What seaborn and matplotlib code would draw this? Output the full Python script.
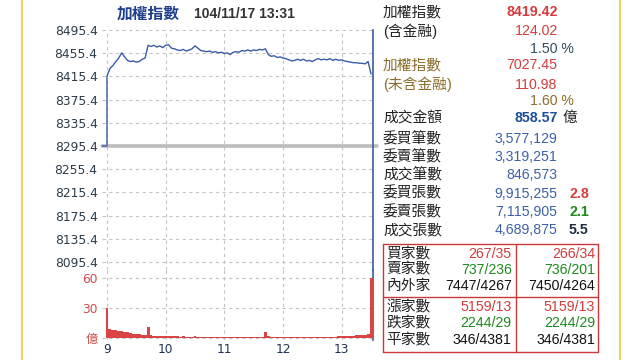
import matplotlib
matplotlib.use("Agg")
import matplotlib.pyplot as plt
from matplotlib.lines import Line2D
import numpy as np
import pandas as pd
import seaborn as sns

sns.set_style("white")
plt.rcParams["font.family"] = ["DejaVu Sans", "Noto Sans CJK TC"]

# ---------------- data ----------------
TITLE = "加權指數"
STAMP = "104/11/17 13:31"
PREV_CLOSE = 8295.4
PRE_OPEN_MIN = -6
PRICE_TICKS = [8495.4, 8455.4, 8415.4, 8375.4, 8335.4, 8295.4, 8255.4, 8215.4, 8175.4, 8135.4, 8095.4]
HOUR_TICKS = [0, 60, 120, 180, 240]
HOUR_LABELS = ["9", "10", "11", "12", "13"]
VOL_TICKS = [0, 30, 60]
VOL_LABELS = ["億", "30", "60"]

MINUTES = list(range(0, 271, 3))
PRICE = [8416, 8429, 8434, 8441, 8447, 8456, 8449, 8443, 8441, 8442,
         8440, 8441, 8445, 8447, 8469, 8467, 8469, 8466, 8468, 8465,
         8469, 8470, 8464, 8463, 8461, 8460, 8462, 8459, 8461, 8463,
         8468, 8464, 8460, 8459, 8458, 8459, 8457, 8458, 8456, 8457,
         8455, 8456, 8453, 8457, 8458, 8457, 8460, 8459, 8461, 8459,
         8461, 8460, 8462, 8461, 8463, 8453, 8450, 8451, 8448, 8449,
         8447, 8446, 8444, 8442, 8443, 8445, 8443, 8445, 8442, 8443,
         8441, 8444, 8446, 8444, 8445, 8444, 8446, 8443, 8445, 8443,
         8444, 8442, 8441, 8440, 8439, 8439, 8438, 8438, 8437, 8441,
         8419.42]
VOLUME = [30, 9, 8.5, 8, 7, 7, 6.5, 6, 5, 4.5,
          4, 4, 3.5, 3.5, 11, 3, 2.5, 2.5, 2.5, 2.5,
          2.5, 2.2, 2, 2, 2, 1.8, 2, 1.8, 1.7, 1.8,
          2.2, 1.6, 1.5, 1.6, 1.5, 1.8, 1.5, 1.4, 1.6, 1.3,
          1.4, 1.5, 1.3, 1.2, 1.4, 1.3, 1.2, 1.3, 1.2, 1.3,
          1.2, 1.4, 1.1, 1.3, 6.5, 2, 1.2, 1.1, 1.2, 1.0,
          1.1, 1.2, 1.0, 1.1, 1.2, 1.0, 1.1, 1.3, 1.2, 1.1,
          1.4, 1.2, 1.3, 1.5, 1.4, 1.6, 1.5, 1.7, 1.8, 2.0,
          2.2, 2.4, 2.5, 2.7, 2.8, 3.0, 3.2, 3.3, 3.8, 4.5,
          60]

SUMMARY_LABELS = ["加權指數", "(含金融)", "", "加權指數", "(未含金融)", "", "成交金額"]
SUMMARY_VALUES = ["8419.42", "124.02", "1.50 %", "7027.45", "110.98", "1.60 %", "858.57"]
AMOUNT_UNIT = "億"
ORDER_LABELS = ["委買筆數", "委賣筆數", "成交筆數", "委買張數", "委賣張數", "成交張數"]
ORDER_VALUES = ["3,577,129", "3,319,251", "846,573", "9,915,255", "7,115,905", "4,689,875"]
ORDER_RATIOS = ["", "", "", "2.8", "2.1", "5.5"]
BROKER_LABELS = ["買家數", "賣家數", "內外家"]
BROKER_LEFT = ["267/35", "737/236", "7447/4267"]
BROKER_RIGHT = ["266/34", "736/201", "7450/4264"]
BREADTH_LABELS = ["漲家數", "跌家數", "平家數"]
BREADTH_LEFT = ["5159/13", "2244/29", "346/4381"]
BREADTH_RIGHT = ["5159/13", "2244/29", "346/4381"]

# ---------------- figure ----------------
W, H = 640, 360
fig = plt.figure(figsize=(W / 100, H / 100), dpi=100)
fig.patch.set_facecolor("white")


def box(x0, y0, x1, y1):
    return [x0 / W, 1 - y1 / H, (x1 - x0) / W, (y1 - y0) / H]


ax1 = fig.add_axes(box(101.7, 30, 372.7, 270))
ax2 = fig.add_axes(box(101.7, 270, 372.7, 340), sharex=ax1)

line_df = pd.DataFrame({
    "t": [PRE_OPEN_MIN, 0] + MINUTES,
    "p": [PREV_CLOSE, PREV_CLOSE] + PRICE,
})
ax1.axhline(PREV_CLOSE, color="#bdbdbd", lw=2.6, zorder=2, xmax=1.015, clip_on=False)
sns.lineplot(data=line_df, x="t", y="p", ax=ax1, estimator=None, sort=False,
             color="#3a5ca6", lw=1.0, zorder=3)

ax1.set_xlim(-5.4, 271.7)
ax1.set_ylim(8081.6, 8495.4)
ax1.set_yticks(PRICE_TICKS)
ax1.set_yticklabels([f"{v:.1f}" for v in PRICE_TICKS])
ax1.set_xticks(HOUR_TICKS)
ax1.tick_params(axis="x", labelbottom=False, length=0)
ax1.tick_params(axis="y", length=0, pad=3, labelsize=8.8, labelcolor="#2b3b48")
ax1.set_xlabel("")
ax1.set_ylabel("")

ax2.bar(MINUTES, VOLUME, width=3.0, color="#d94444", linewidth=0, zorder=3)
ax2.set_ylim(-1.7, 68.3)
ax2.set_yticks(VOL_TICKS)
ax2.set_yticklabels(VOL_LABELS)
ax2.set_xticks(HOUR_TICKS)
ax2.set_xticklabels(HOUR_LABELS)
ax2.tick_params(axis="y", length=0, pad=3, labelsize=8.8, labelcolor="#d04a4a")
ax2.tick_params(axis="x", length=0, pad=2, labelsize=8.8, labelcolor="#1e3450")

for ax in (ax1, ax2):
    ax.grid(True, ls=(0, (3, 3)), color="#c4c4c4", lw=0.8)
    ax.set_axisbelow(True)
    for s in ("top", "bottom", "left"):
        ax.spines[s].set_visible(False)
    ax.spines["right"].set_color("#3a5ca6")
    ax.spines["right"].set_linewidth(1.2)
    ax.patch.set_alpha(0)

# yellow side rules
for xp in (21.7, 620):
    fig.add_artist(Line2D([xp / W, xp / W], [0, 1], color="#f0c832", lw=1.2))

# title
fig.text(117 / W, 1 - 14 / H, TITLE, fontsize=11.3, fontweight="bold", color="#1f3f8c",
         family=["Noto Sans CJK TC"], va="center", ha="left")
fig.text(194 / W, 1 - 14 / H, STAMP, fontsize=10, fontweight="bold", color="#333333",
         family=["Liberation Sans"], va="center", ha="left")

FAM = ["Liberation Sans", "Noto Sans CJK TC"]
FS = 10.2
FS_LABEL = 10.6


def put(x, y, s, ha="left", color="#222222", bold=False, size=FS):
    fig.text(x / W, 1 - y / H, s, ha=ha, va="center", color=color, fontsize=size,
             fontweight="bold" if bold else "normal", family=FAM)


RED = "#d43c3c"
GREEN = "#1e8a1e"
BROWN = "#8c6d2c"
BLUE = "#3d62a8"

sum_y = [12.3, 31, 48.7, 65, 84.7, 101, 118.3]
sum_label_col = ["#222222", "#222222", None, BROWN, BROWN, None, "#222222"]
sum_val_col = [RED, RED, "#2f4f5f", RED, RED, BROWN, "#1f4e9a"]
sum_bold = [True, False, False, False, False, False, True]
for i, y in enumerate(sum_y):
    if SUMMARY_LABELS[i]:
        put(383, y, SUMMARY_LABELS[i], color=sum_label_col[i], size=FS_LABEL)
    v = SUMMARY_VALUES[i]
    xr = 573.5 if v.endswith("%") else 557.7
    put(xr, y, v, ha="right", color=sum_val_col[i], bold=sum_bold[i])
put(563, sum_y[6], AMOUNT_UNIT, size=FS_LABEL)

ord_y = [139.3, 157.3, 175.2, 193.5, 211.8, 230.5]
ratio_col = [None, None, None, RED, GREEN, "#1f2f3f"]
for i, y in enumerate(ord_y):
    put(383, y, ORDER_LABELS[i], size=FS_LABEL)
    put(557.7, y, ORDER_VALUES[i], ha="right", color=BLUE)
    if ORDER_RATIOS[i]:
        put(569, y, ORDER_RATIOS[i], color=ratio_col[i], bold=True)

# table box
tc = "#c83a3a"
for (xa, ya, xb, yb) in [(383.3, 244, 598.3, 244), (383.3, 351.7, 598.3, 351.7),
                         (383.3, 244, 383.3, 351.7), (598.3, 244, 598.3, 351.7),
                         (515.7, 244, 515.7, 351.7), (383.3, 297.3, 598.3, 297.3)]:
    fig.add_artist(Line2D([xa / W, xb / W], [1 - ya / H, 1 - yb / H], color=tc, lw=1.0))

row_cols = [RED, GREEN, "#111111"]
for i, y in enumerate([254.3, 269.7, 285.7]):
    put(386, y, BROKER_LABELS[i], size=FS_LABEL)
    put(511.7, y, BROKER_LEFT[i], ha="right", color=row_cols[i])
    put(595, y, BROKER_RIGHT[i], ha="right", color=row_cols[i])
for i, y in enumerate([307.3, 323.3, 340]):
    put(386, y, BREADTH_LABELS[i], size=FS_LABEL)
    put(511.7, y, BREADTH_LEFT[i], ha="right", color=row_cols[i])
    put(595, y, BREADTH_RIGHT[i], ha="right", color=row_cols[i])

fig.savefig("out.png", dpi=100, facecolor="white")
